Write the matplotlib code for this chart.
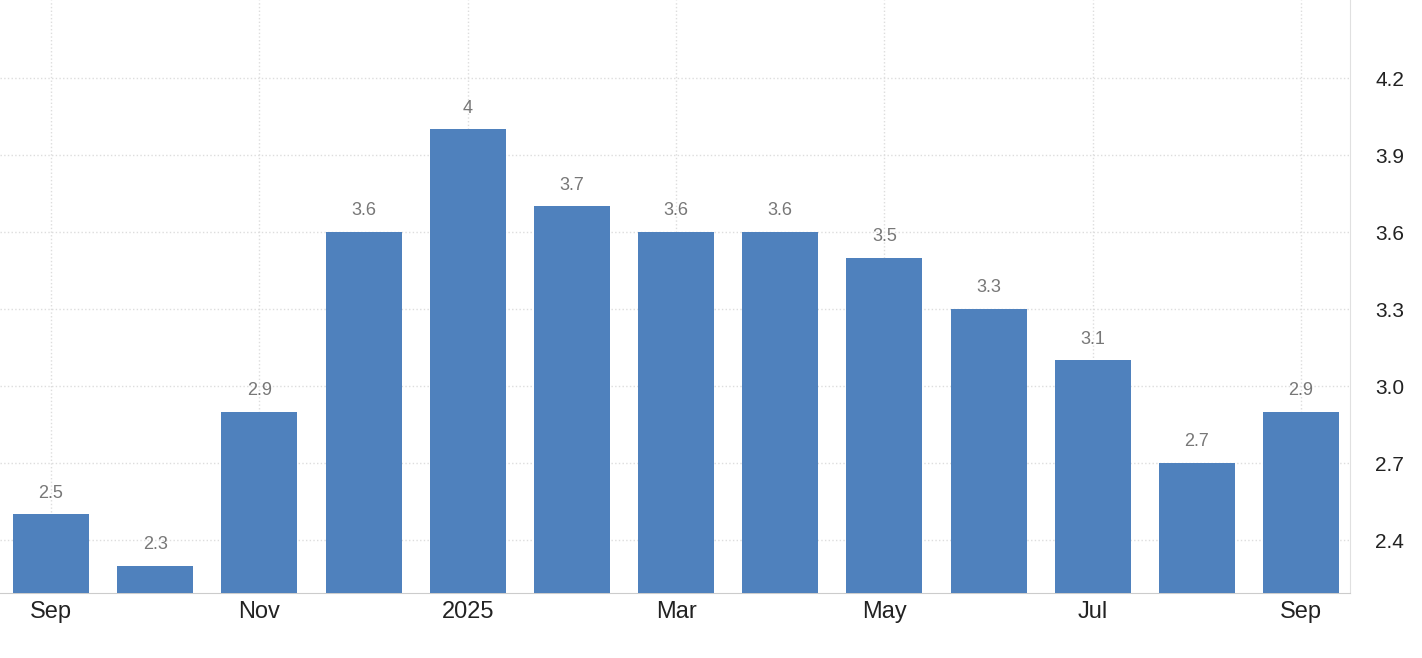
import matplotlib.pyplot as plt

months = ["Sep", "Oct", "Nov", "Dec", "Jan", "Feb", "Mar", "Apr", "May", "Jun", "Jul", "Aug", "Sep"]
values = [2.5, 2.3, 2.9, 3.6, 4.0, 3.7, 3.6, 3.6, 3.5, 3.3, 3.1, 2.7, 2.9]
value_labels = ["2.5", "2.3", "2.9", "3.6", "4", "3.7", "3.6", "3.6", "3.5", "3.3", "3.1", "2.7", "2.9"]
tick_pos = [0, 2, 4, 6, 8, 10, 12]
tick_labels = ["Sep", "Nov", "2025", "Mar", "May", "Jul", "Sep"]
yticks = [2.4, 2.7, 3.0, 3.3, 3.6, 3.9, 4.2]

plt.rcParams["font.family"] = ["Liberation Sans", "DejaVu Sans"]
fig = plt.figure(figsize=(14.22, 6.58), dpi=100)
ax = fig.add_axes([0, 1 - 593 / 658, 1350 / 1422, 593 / 658])

x = range(len(values))
ax.bar(x, values, width=0.73, color="#4f81bd", zorder=3)
for i, v in enumerate(values):
    ax.text(i, v + 0.05, value_labels[i], ha="center", va="bottom", fontsize=13, color="#777777")

ax.set_xlim(-0.49, 12.47)
ax.set_ylim(2.194, 4.504)
ax.set_xticks(tick_pos)
ax.set_xticklabels(tick_labels, fontsize=17, color="#222222")
ax.set_yticks(yticks)
ax.set_yticklabels([f"{t:.1f}" for t in yticks], fontsize=15, color="#222222")
ax.yaxis.tick_right()
ax.tick_params(axis="y", length=0, pad=18)
ax.tick_params(axis="x", length=0, pad=6)
ax.grid(True, color="#dddddd", linestyle=":", linewidth=1, zorder=0)

for s in ["top", "left"]:
    ax.spines[s].set_visible(False)
ax.spines["right"].set_color("#e0e0e0")
ax.spines["bottom"].set_color("#cccccc")

fig.savefig("out.png", dpi=100)
